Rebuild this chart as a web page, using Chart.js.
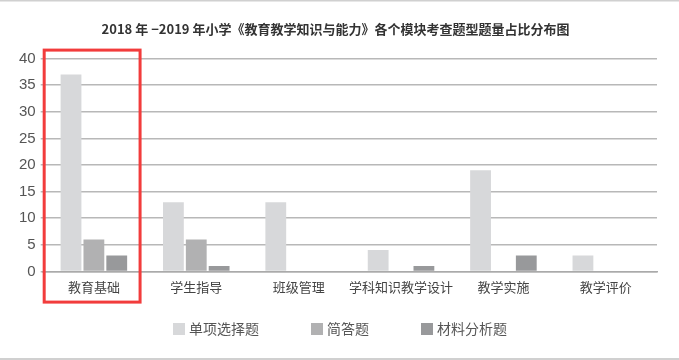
<!DOCTYPE html>
<html><head><meta charset="utf-8">
<script src="https://cdn.jsdelivr.net/npm/chart.js@4/dist/chart.umd.min.js"></script>
<style>html,body{margin:0;padding:0;background:#fff}canvas{display:block}</style>
</head><body>
<canvas id="c" width="679" height="360"></canvas>
<script>
const categories = ['教育基础','学生指导','班级管理','学科知识教学设计','教学实施','教学评价'];
const seriesNames = ['单项选择题','简答题','材料分析题'];
const singleChoice = [37, 13, 13, 4, 19, 3];
const shortAnswer = [6, 6, 0, 0, 0, 0];
const materialAnalysis = [3, 1, 0, 1, 3, 0];
const titleText = '2018 年 −2019 年小学《教育教学知识与能力》各个模块考查题型题量占比分布图';
const highlightIndex = 0;

const FONT = '"Noto Sans CJK SC", "Noto Sans", sans-serif';
const colors = ['#d7d8da','#b1b1b2','#98999b'];

const decor = {
  id:'decor',
  afterDraw(chart){
    const ctx = chart.ctx;
    ctx.save();
    // page edge lines
    ctx.strokeStyle = '#d0d0d0'; ctx.lineWidth = 2;
    ctx.beginPath(); ctx.moveTo(0,0.5); ctx.lineTo(679,0.5); ctx.stroke();
    ctx.beginPath(); ctx.moveTo(0,359); ctx.lineTo(679,359); ctx.stroke();
    // highlight box
    const x = chart.scales.x;
    const w = (x.right - x.left) / categories.length;
    const cx = x.getPixelForValue(highlightIndex);
    ctx.strokeStyle = '#f23c3c'; ctx.lineWidth = 3;
    ctx.strokeRect(cx - w/2 + 1.5, chart.chartArea.top - 8.5, w - 6.5, 252);
    // legend
    ctx.font = '14px ' + FONT;
    ctx.textBaseline = 'middle';
    const box = 12, gapText = 4, gapItem = 52;
    const items = chart.data.datasets.map(d => ({label:d.label, color:d.backgroundColor, tw: ctx.measureText(d.label).width}));
    let total = 0;
    items.forEach((it,i) => { total += box + gapText + it.tw + (i < items.length-1 ? gapItem : 0); });
    let px = Math.round(chart.width/2 - total/2);
    const py = 329;
    items.forEach(it => {
      ctx.fillStyle = it.color;
      ctx.fillRect(px, py - box/2, box, box);
      ctx.fillStyle = '#555';
      ctx.fillText(it.label, px + box + gapText, py);
      px += box + gapText + it.tw + gapItem;
    });
    ctx.restore();
  }
};

new Chart(document.getElementById('c'), {
  type:'bar',
  data:{
    labels: categories,
    datasets:[
      {label: seriesNames[0], data: singleChoice, backgroundColor: colors[0]},
      {label: seriesNames[1], data: shortAnswer, backgroundColor: colors[1]},
      {label: seriesNames[2], data: materialAnalysis, backgroundColor: colors[2]}
    ]
  },
  options:{
    responsive:false, animation:false,
    layout:{padding:{left:14,right:22,top:21,bottom:65}},
    datasets:{bar:{categoryPercentage:0.67, barPercentage:0.91}},
    plugins:{
      title:{display:true, text:titleText, color:'#333', font:{family:FONT,size:13,weight:'bold'}, padding:{top:0,bottom:22}},
      legend:{display:false},
      tooltip:{enabled:false}
    },
    scales:{
      x:{grid:{display:false}, border:{display:true, color:'#aaa', width:1.5},
         ticks:{color:'#444', font:{family:FONT,size:13}, padding:0, maxRotation:0, autoSkip:false}},
      y:{min:0,max:40, ticks:{stepSize:5, color:'#555', font:{family:'"Liberation Sans", Arial, sans-serif',size:15}, padding:5},
         grid:{color:'#b8b8b8', lineWidth:1.5, tickLength:2}, border:{display:false}}
    }
  },
  plugins:[decor]
});
</script>
</body></html>
